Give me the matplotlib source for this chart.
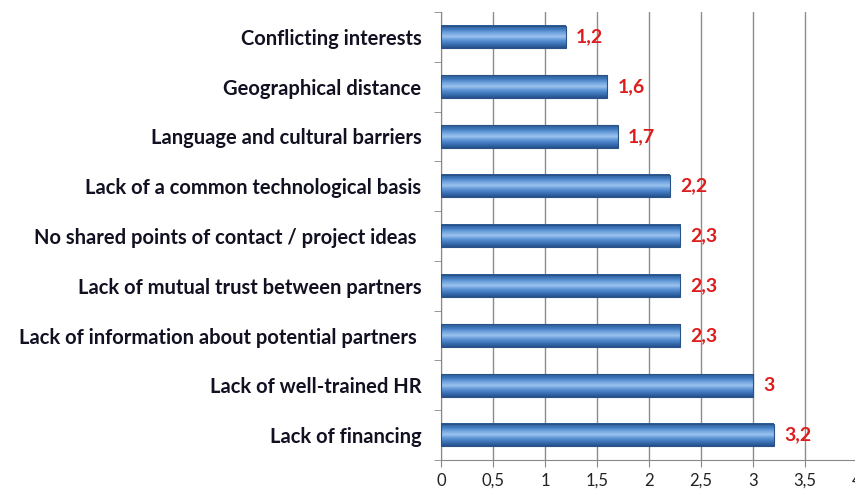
import numpy as np
import matplotlib.pyplot as plt
from matplotlib.colors import LinearSegmentedColormap

categories = [
    "Conflicting interests",
    "Geographical distance",
    "Language and cultural barriers",
    "Lack of a common technological basis",
    "No shared points of contact / project ideas ",
    "Lack of mutual trust between partners",
    "Lack of information about potential partners ",
    "Lack of well-trained HR",
    "Lack of financing",
]
values = [1.2, 1.6, 1.7, 2.2, 2.3, 2.3, 2.3, 3.0, 3.2]
value_labels = ["1,2", "1,6", "1,7", "2,2", "2,3", "2,3", "2,3", "3", "3,2"]
xticks = [0, 0.5, 1, 1.5, 2, 2.5, 3, 3.5, 4]
xtick_labels = ["0", "0,5", "1", "1,5", "2", "2,5", "3", "3,5", "4"]

plt.rcParams['font.family'] = ['Lato', 'DejaVu Sans']

fig = plt.figure(figsize=(8.55, 4.91), dpi=100)
ax = fig.add_axes([441 / 855, 31 / 491, 416 / 855, 448 / 491])

n = len(categories)
ypos = np.arange(n)
bar_h = 0.45

# gradient for the bevelled bars
cmap = LinearSegmentedColormap.from_list(
    "bev", ["#2b5a93", "#3f78bd", "#6fa3de", "#9cc3ef", "#5a92d4", "#3b72b6", "#24508a"])
grad = np.linspace(0, 1, 64).reshape(-1, 1)

for y, v in zip(ypos, values):
    ax.imshow(grad, cmap=cmap, aspect='auto', origin='upper',
              extent=[0, v, y + bar_h / 2, y - bar_h / 2], zorder=3)
    ax.barh(y, v, height=bar_h, color='none', edgecolor='#2a5286', linewidth=0.8, zorder=4)

for y, v, lab in zip(ypos, values, value_labels):
    ax.text(v + 0.1, y, lab, color='#dd1d1d', fontsize=14, fontweight='bold',
            va='center', ha='left', zorder=5)

ax.set_xlim(0, 4)
ax.set_ylim(n - 0.5, -0.5)
ax.set_xticks(xticks)
ax.set_xticklabels(xtick_labels, fontsize=12, color='#222222')
ax.set_yticks(ypos)
ax.set_yticklabels(categories, fontsize=14.5, fontweight='bold', color='#111122')
ax.tick_params(axis='y', length=0, pad=14)
ax.set_yticks(np.arange(-0.5, n, 1), minor=True)
ax.tick_params(axis='y', which='minor', length=5, color='#888888', direction='out')
ax.tick_params(axis='x', length=5, color='#888888', direction='out', pad=4)

ax.grid(axis='x', color='#8c8c8c', linewidth=1.0, zorder=0)
ax.set_axisbelow(True)
for s in ['top', 'right']:
    ax.spines[s].set_visible(False)
ax.spines['left'].set_color('#888888')
ax.spines['bottom'].set_color('#888888')

fig.savefig("out.png", dpi=100)
